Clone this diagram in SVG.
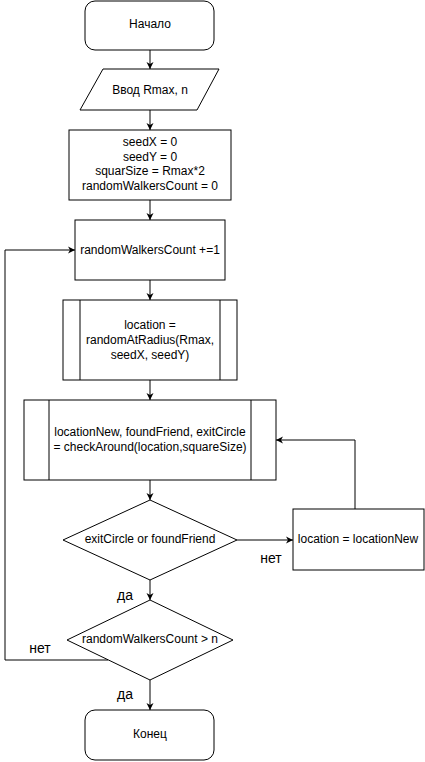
<svg xmlns="http://www.w3.org/2000/svg" width="425" height="762" viewBox="0 0 425 762">
<style>
.s{fill:#fff;stroke:#000;stroke-width:1}
.t{font-family:"Liberation Sans",Arial,sans-serif;font-size:12px;fill:#000;text-anchor:middle;dominant-baseline:central}
.l{font-family:"Liberation Sans",Arial,sans-serif;font-size:14px;fill:#000;text-anchor:middle;dominant-baseline:central}
.c{fill:none;stroke:#000;stroke-width:1}
</style>
<defs>
<marker id="a" markerWidth="8" markerHeight="8" refX="7" refY="4" orient="auto" markerUnits="userSpaceOnUse">
<path d="M0,0.5 L7,4 L0,7.5 L2,4 Z" fill="#000"/>
</marker>
</defs>
<rect width="425" height="762" fill="#fff"/>
<g id="connectors">
<path class="c" d="M150,50 V69" marker-end="url(#a)"/>
<path class="c" d="M150,110 V130" marker-end="url(#a)"/>
<path class="c" d="M150,200 V220" marker-end="url(#a)"/>
<path class="c" d="M150,280 V300" marker-end="url(#a)"/>
<path class="c" d="M150,380 V400" marker-end="url(#a)"/>
<path class="c" d="M150,480 V500" marker-end="url(#a)"/>
<path class="c" d="M237,540 H293" marker-end="url(#a)"/>
<path class="c" d="M355,509 V440 H276" marker-end="url(#a)"/>
<path class="c" d="M150,580 V600" marker-end="url(#a)"/>
<path class="c" d="M150,680 V710" marker-end="url(#a)"/>
<path class="c" d="M108,660 H5 V250 H75" marker-end="url(#a)"/>
<text class="l" x="271" y="558">нет</text>
<text class="l" x="125" y="595">да</text>
<text class="l" x="40" y="648">нет</text>
<text class="l" x="125" y="694">да</text>
</g>
<g id="start">
<rect class="s" x="85" y="1" width="129" height="49" rx="10"/>
<text class="t" x="150" y="24">Начало</text>
</g>
<g id="input">
<polygon class="s" points="103,69 219,69 197,110 80,110"/>
<text class="t" x="150" y="90">Ввод Rmax, n</text>
</g>
<g id="init">
<rect class="s" x="69" y="130" width="162" height="70"/>
<text class="t" x="150" y="142">seedX = 0</text>
<text class="t" x="150" y="157">seedY = 0</text>
<text class="t" x="150" y="171">squarSize = Rmax*2</text>
<text class="t" x="150" y="186">randomWalkersCount = 0</text>
</g>
<g id="increment">
<rect class="s" x="75" y="220" width="150" height="60"/>
<text class="t" x="150" y="250">randomWalkersCount +=1</text>
</g>
<g id="randomAtRadius">
<rect class="s" x="63" y="300" width="174" height="80"/>
<path class="c" d="M80,300 V380 M220,300 V380"/>
<text class="t" x="150" y="325">location =</text>
<text class="t" x="150" y="340">randomAtRadius(Rmax,</text>
<text class="t" x="150" y="355">seedX, seedY)</text>
</g>
<g id="checkAround">
<rect class="s" x="24" y="400" width="252" height="80"/>
<path class="c" d="M49,400 V480 M251,400 V480"/>
<text class="t" x="150" y="432">locationNew, foundFriend, exitCircle</text>
<text class="t" x="150" y="447">= checkAround(location,squareSize)</text>
</g>
<g id="decision1">
<polygon class="s" points="150,500 237,540 150,580 63,540"/>
<text class="t" x="150" y="539">exitCircle or foundFriend</text>
</g>
<g id="update">
<rect class="s" x="293" y="509" width="131" height="61"/>
<text class="t" x="358" y="539">location = locationNew</text>
</g>
<g id="decision2">
<polygon class="s" points="150,600 233,640 150,680 67,640"/>
<text class="t" x="150" y="639">randomWalkersCount &gt; n</text>
</g>
<g id="end">
<rect class="s" x="85" y="710" width="129" height="50" rx="10"/>
<text class="t" x="150" y="734">Конец</text>
</g>
</svg>
